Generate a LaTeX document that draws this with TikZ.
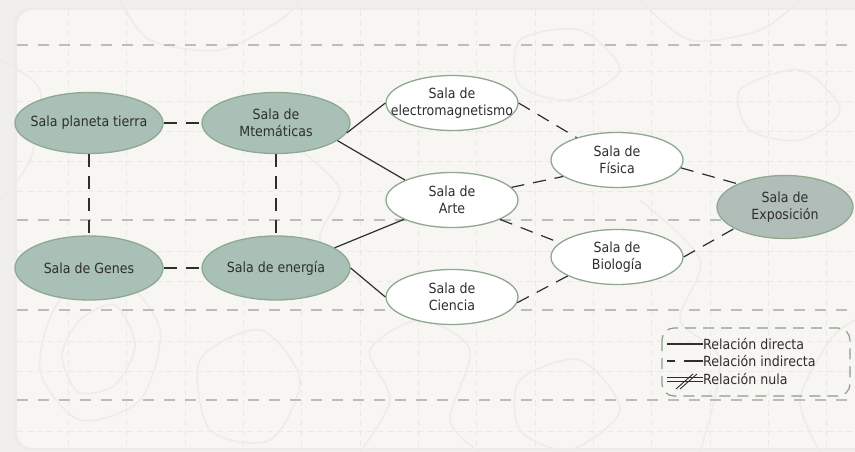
\documentclass[tikz,border=0pt]{standalone}
\usepackage{fontspec}
\setmainfont{DejaVu Sans Condensed}
\usetikzlibrary{shapes.geometric}

\definecolor{pagebg}{HTML}{F1EFEB}
\definecolor{cardbg}{HTML}{F8F6F3}
\definecolor{topo}{HTML}{EEECE8}
\definecolor{gridc}{HTML}{EBE9E5}
\definecolor{guide}{HTML}{BCBCBA}
\definecolor{roomfill}{HTML}{A9C0B6}
\definecolor{roomline}{HTML}{8EA98E}
\definecolor{expofill}{HTML}{B0BDB9}
\definecolor{ink}{HTML}{2E2E2E}

\tikzset{
  room/.style={ellipse, draw=roomline, line width=1.3pt, fill=roomfill,
    minimum width=148pt, minimum height=61pt, inner xsep=-18pt, inner ysep=0pt,
    font=\fontsize{14}{16.5}\selectfont, text=ink, align=center},
  hall/.style={ellipse, draw=roomline, line width=1.3pt, fill=white,
    minimum width=132pt, minimum height=55pt, inner xsep=-18pt, inner ysep=0pt,
    font=\fontsize{14}{16.5}\selectfont, text=ink, align=center},
  expo/.style={room, fill=expofill, minimum width=136pt, minimum height=63pt},
  direct/.style={draw=ink, line width=1.2pt},
  indirect/.style={draw=ink, line width=1.2pt, dash pattern=on 13pt off 9pt},
  guideline/.style={draw=guide, line width=1.6pt, dash pattern=on 11pt off 10pt},
  gridline/.style={draw=gridc, line width=0.8pt, dash pattern=on 6pt off 4pt},
  topoline/.style={draw=topo, line width=1.6pt},
  legendtext/.style={font=\fontsize{14}{16}\selectfont, text=ink, anchor=west, inner sep=0pt}
}

\begin{document}
\begin{tikzpicture}[x=1pt, y=-1pt]
  % page and card
  \fill[pagebg] (0,0) rectangle (855,452);
  \useasboundingbox (0,0) rectangle (855,452);
  \fill[black!8, rounded corners=16pt] (14,8) rectangle (880,450);
  \fill[cardbg, rounded corners=16pt] (17,10) rectangle (880,448);

  % contour texture
  \begin{scope}
    \clip (0,0) rectangle (855,452);
    \draw[topoline] plot[smooth cycle] coordinates {(60,300) (120,280) (160,330) (140,400) (80,420) (40,370)};
    \draw[topoline] plot[smooth cycle] coordinates {(80,320) (115,305) (135,345) (115,385) (78,392) (62,355)};
    \draw[topoline] plot[smooth cycle] coordinates {(200,360) (260,330) (300,380) (270,440) (210,430)};
    \draw[topoline] plot[smooth cycle] coordinates {(520,380) (580,360) (620,410) (570,450) (520,430)};
    \draw[topoline] plot[smooth] coordinates {(360,452) (390,400) (370,350) (420,320) (470,350) (450,420) (480,452)};
    \draw[topoline] plot[smooth] coordinates {(820,452) (800,400) (830,340) (855,320)};
    \draw[topoline] plot[smooth] coordinates {(640,0) (690,40) (760,30) (800,0)};
    \draw[topoline] plot[smooth] coordinates {(120,0) (150,40) (220,50) (280,20) (300,0)};
    \draw[topoline] plot[smooth cycle] coordinates {(520,40) (580,30) (620,70) (570,100) (520,85)};
    \draw[topoline] plot[smooth] coordinates {(0,60) (40,90) (30,160) (0,200)};
    \draw[topoline] plot[smooth] coordinates {(300,150) (340,190) (320,240) (360,280)};
    \draw[topoline] plot[smooth] coordinates {(640,200) (700,260) (680,320) (720,360) (700,452)};
    \draw[topoline] plot[smooth cycle] coordinates {(740,90) (800,70) (840,110) (800,140) (750,130)};
  \end{scope}

  % faint grid
  \foreach \gx in {68,126,185,243,301,360,418,476,535,593,651,710,768,826}
    \draw[gridline] (\gx,10) -- (\gx,448);
  \foreach \gy in {71,101,131,161,191,251,281,341,371,431}
    \draw[gridline] (17,\gy) -- (855,\gy);

  % horizontal guides
  \foreach \gy in {45,220,310,400}
    \draw[guideline] (17,\gy) -- (855,\gy);

  % rooms
  \node[room] (tierra) at (89,123) {Sala planeta tierra};
  \node[room] (mate)   at (276,123) {Sala de\\Mtemáticas};
  \node[room, minimum height=64pt] (genes)  at (89,268) {Sala de Genes};
  \node[room, minimum height=64pt] (energia) at (276,268) {Sala de energía};
  \node[hall] (electro) at (452,103) {Sala de\\electromagnetismo};
  \node[hall] (arte)    at (452,200) {Sala de\\Arte};
  \node[hall] (ciencia) at (452,297) {Sala de\\Ciencia};
  \node[hall] (fisica)  at (617,160) {Sala de\\Física};
  \node[hall] (bio)     at (617,257) {Sala de\\Biología};
  \node[expo] (expo)    at (785,207) {Sala de\\Exposición};

  % relations
  \draw[indirect] (tierra) -- (mate);
  \draw[indirect] (tierra) -- (genes);
  \draw[indirect] (mate) -- (energia);
  \draw[indirect] (genes) -- (energia);
  \draw[direct] (mate.-8) -- (electro.west);
  \draw[direct] (mate.-16) -- (arte.157);
  \draw[direct] (energia.19) -- (arte.202);
  \draw[direct] (energia.east) -- (ciencia.west);
  \draw[indirect] (electro.east) -- (fisica.151);
  \draw[indirect] (arte.12) -- (fisica.197);
  \draw[indirect] (arte.-22) -- (bio.166);
  \draw[indirect] (ciencia.-5) -- (bio.201);
  \draw[indirect] (fisica.-7) -- (expo.154);
  \draw[indirect] (bio.east) -- (expo.203);

  % legend
  \draw[draw=roomline!70!gray, line width=1.2pt, dash pattern=on 11pt off 7pt, rounded corners=12pt]
    (662,328) rectangle (850,396);
  \coordinate (l1a) at (667,344); \coordinate (l1b) at (703,344);
  \coordinate (l2a) at (667,361); \coordinate (l2b) at (703,361);
  \coordinate (l3a) at (667,379); \coordinate (l3b) at (703,379);
  \draw[direct] (l1a) -- (l1b);
  \draw[draw=ink, line width=1.2pt, dash pattern=on 8pt off 9pt on 19pt] (l2a) -- (l2b);
  \draw[draw=ink, line width=0.9pt] (667,377.5) -- (703,377.5) (667,381) -- (703,381);
  \draw[draw=ink, line width=0.9pt] (676,389) -- (693,374) (680,389) -- (697,374);
  \node[legendtext] (t1) at (l1b) {Relación directa};
  \node[legendtext] (t2) at (l2b) {Relación indirecta};
  \node[legendtext] (t3) at (l3b) {Relación nula};
\end{tikzpicture}
\end{document}
